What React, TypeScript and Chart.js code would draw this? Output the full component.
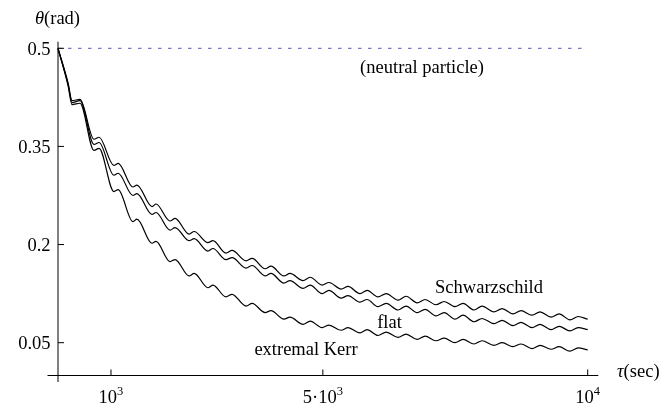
import React, { useEffect, useRef } from "react";
import { Chart, registerables } from "chart.js";

Chart.register(...registerables);

// proper time tau (sec) of the sampled extremes of the wiggles
const tau = [
  0, 190, 265, 415, 680, 775, 1055, 1135, 1415, 1490, 1775, 1850, 2115, 2210,
  2475, 2570, 2830, 2925, 3170, 3285, 3550, 3665, 3910, 4020, 4265, 4380, 4625,
  4760, 4985, 5115, 5345, 5475, 5700, 5835, 6040, 6195, 6420, 6570, 6780, 6930,
  7135, 7290, 7495, 7645, 7855, 8005, 8230, 8385, 8590, 8740, 8950, 9100, 9310,
  9460, 9665, 9820, 10000,
];

const thetaSchwarzschild = [
  0.5, 0.447, 0.42, 0.422, 0.361, 0.364, 0.321, 0.324, 0.288, 0.291, 0.258,
  0.262, 0.236, 0.24, 0.216, 0.22, 0.203, 0.206, 0.187, 0.191, 0.175, 0.179,
  0.163, 0.167, 0.152, 0.156, 0.145, 0.15, 0.138, 0.142, 0.132, 0.136, 0.125,
  0.13, 0.12, 0.125, 0.115, 0.121, 0.111, 0.116, 0.108, 0.113, 0.105, 0.11, 0.1,
  0.106, 0.097, 0.102, 0.094, 0.099, 0.092, 0.097, 0.089, 0.094, 0.085, 0.09,
  0.086,
];

const thetaFlat = [
  0.5, 0.445, 0.417, 0.42, 0.353, 0.356, 0.306, 0.309, 0.275, 0.278, 0.246,
  0.249, 0.222, 0.226, 0.206, 0.209, 0.19, 0.194, 0.177, 0.18, 0.164, 0.168,
  0.152, 0.156, 0.141, 0.145, 0.133, 0.138, 0.125, 0.13, 0.118, 0.122, 0.112,
  0.116, 0.105, 0.11, 0.1, 0.106, 0.096, 0.101, 0.091, 0.096, 0.086, 0.092,
  0.082, 0.087, 0.079, 0.084, 0.076, 0.081, 0.073, 0.078, 0.07, 0.075, 0.068,
  0.073, 0.07,
];

const thetaKerr = [
  0.5, 0.443, 0.414, 0.416, 0.344, 0.347, 0.281, 0.284, 0.235, 0.239, 0.202,
  0.205, 0.174, 0.177, 0.152, 0.156, 0.134, 0.138, 0.12, 0.124, 0.106, 0.11,
  0.096, 0.099, 0.086, 0.089, 0.078, 0.083, 0.073, 0.077, 0.069, 0.073, 0.065,
  0.07, 0.061, 0.066, 0.058, 0.063, 0.055, 0.06, 0.053, 0.057, 0.05, 0.055,
  0.048, 0.053, 0.046, 0.05, 0.044, 0.048, 0.041, 0.046, 0.04, 0.044, 0.037,
  0.042, 0.039,
];

const neutralTau = [0, 10000];
const neutralTheta = [0.5, 0.5];

const yTicks = [0.05, 0.2, 0.35, 0.5];
const yTickLabels = ["0.05", "0.2", "0.35", "0.5"];
const xTicks = [1000, 5000, 10000];
const xTickBases = ["10", "5\u00b710", "10"];
const xTickExponents = ["3", "3", "4"];

const curveNames = ["(neutral particle)", "Schwarzschild", "flat", "extremal Kerr"];
const curveNameTau = [6872, 8137, 6259, 4682];
const curveNameTheta = [0.462, 0.126, 0.0725, 0.0312];

const FONT = '"Liberation Serif", "Times New Roman", serif';
const FS = 18.5;

const mmaAxes = {
  id: "mmaAxes",
  afterDatasetsDraw(chart: any) {
    const { ctx } = chart;
    const xs = chart.scales.x;
    const ys = chart.scales.y;
    const x0 = xs.getPixelForValue(0);
    const y0 = ys.getPixelForValue(0);
    const ya = Math.round(y0) + 0.5;
    ctx.save();
    ctx.strokeStyle = "#000";
    ctx.lineWidth = 1;
    // y axis
    ctx.beginPath();
    ctx.moveTo(x0, ys.getPixelForValue(0.51));
    ctx.lineTo(x0, ya + 6.5);
    ctx.stroke();
    // x axis
    ctx.beginPath();
    ctx.moveTo(x0 - 10.5, ya);
    ctx.lineTo(xs.getPixelForValue(10200), ya);
    ctx.stroke();
    // y ticks
    ctx.fillStyle = "#000";
    ctx.font = `${FS}px ${FONT}`;
    ctx.textAlign = "right";
    ctx.textBaseline = "alphabetic";
    yTicks.forEach((v, i) => {
      const py = ys.getPixelForValue(v);
      ctx.beginPath();
      ctx.moveTo(x0, py);
      ctx.lineTo(x0 + 6, py);
      ctx.stroke();
      ctx.fillText(yTickLabels[i], x0 - 7.5, py + 6.6);
    });
    // x ticks
    xTicks.forEach((v, i) => {
      const px = xs.getPixelForValue(v);
      ctx.beginPath();
      ctx.moveTo(px, ya);
      ctx.lineTo(px, ya - 6);
      ctx.stroke();
      ctx.font = `${FS}px ${FONT}`;
      const wb = ctx.measureText(xTickBases[i]).width;
      ctx.font = `12.5px ${FONT}`;
      const we = ctx.measureText(xTickExponents[i]).width;
      const start = px - (wb + we) / 2;
      ctx.textAlign = "left";
      ctx.font = `${FS}px ${FONT}`;
      ctx.fillText(xTickBases[i], start, 402.5);
      ctx.font = `12.5px ${FONT}`;
      ctx.fillText(xTickExponents[i], start + wb, 395);
    });
    // axis labels
    ctx.textAlign = "left";
    ctx.font = `italic ${FS}px ${FONT}`;
    ctx.fillText("\u03b8", 35, 24);
    let w = ctx.measureText("\u03b8").width;
    ctx.font = `${FS}px ${FONT}`;
    ctx.fillText("(rad)", 35 + w, 24);
    ctx.font = `italic ${FS}px ${FONT}`;
    ctx.fillText("\u03c4", 617, 377);
    w = ctx.measureText("\u03c4").width;
    ctx.font = `${FS}px ${FONT}`;
    ctx.fillText("(sec)", 617 + w, 377);
    // curve names
    ctx.textAlign = "center";
    curveNames.forEach((t, i) => {
      ctx.fillText(t, xs.getPixelForValue(curveNameTau[i]), ys.getPixelForValue(curveNameTheta[i]));
    });
    ctx.restore();
  },
};

function series(ts: number[], vs: number[]) {
  return ts.map((t, i) => ({ x: t, y: vs[i] }));
}

export default function App() {
  const ref = useRef<HTMLCanvasElement | null>(null);
  useEffect(() => {
    if (!ref.current) return;
    const curve = (label: string, vs: number[]) => ({
      label,
      data: series(tau, vs),
      borderColor: "#000",
      borderWidth: 1.2,
      pointRadius: 0,
      cubicInterpolationMode: "monotone" as const,
      capBezierPoints: false,
      clip: false as const,
      fill: false,
    });
    const chart = new Chart(ref.current, {
      type: "line",
      data: {
        datasets: [
          {
            label: "neutral particle",
            data: series(neutralTau, neutralTheta),
            borderColor: "#5454b4",
            borderWidth: 1,
            borderDash: [3.5, 6.5],
            pointRadius: 0,
            clip: false as const,
            fill: false,
          },
          curve("Schwarzschild", thetaSchwarzschild),
          curve("flat", thetaFlat),
          curve("extremal Kerr", thetaKerr),
        ],
      },
      options: {
        animation: false,
        responsive: false,
        devicePixelRatio: 1,
        events: [],
        layout: { padding: { left: 58, right: 75.3, top: 48.3, bottom: 30.6 } },
        plugins: { legend: { display: false }, tooltip: { enabled: false } },
        scales: {
          x: { type: "linear", min: 0, max: 10000, display: false },
          y: { type: "linear", min: 0, max: 0.5, display: false },
        },
      },
      plugins: [mmaAxes],
    });
    return () => chart.destroy();
  }, []);
  return (
    <div style={{ position: "fixed", left: 0, top: 0, width: 663, height: 406, background: "#fff" }}>
      <canvas ref={ref} width={663} height={406} style={{ display: "block" }} />
    </div>
  );
}
